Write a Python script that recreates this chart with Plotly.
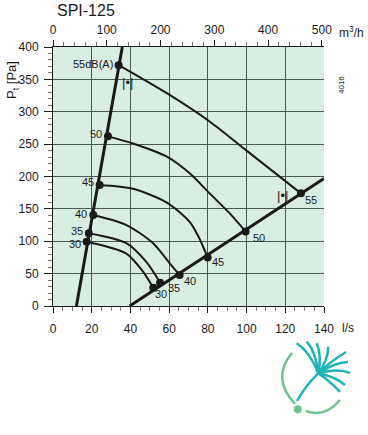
import plotly.graph_objects as go

# ---------------- data ----------------
title_text = "SPI-125"
x_tick_vals = [0, 20, 40, 60, 80, 100, 120, 140]
y_tick_vals = [0, 50, 100, 150, 200, 250, 300, 350, 400]
top_tick_vals = [0, 100, 200, 300, 400, 500]
ls_to_m3h = 3.6

left_system_q = [12.1, 35.8]
left_system_p = [0, 400]
right_system_q = [39.6, 140]
right_system_p = [0, 197]

levels = ["55", "50", "45", "40", "35", "30"]
left_point_q = [33.9, 28.4, 24.1, 20.8, 18.5, 17.4]
left_point_p = [372, 262, 187, 140.5, 112.5, 99.3]
right_point_q = [128.1, 99.5, 79.9, 65.4, 55.3, 51.8]
right_point_p = [174, 115, 75, 48, 36, 28]

mid_q_55 = [58.6, 80.9, 100]
mid_p_55 = [329, 285, 240]
mid_q_50 = [41.3, 58.6, 70.6, 80.9, 91.3]
mid_p_50 = [251, 231, 205, 174, 143]
mid_q_45 = [41.3, 58.6, 70.6, 75.5]
mid_p_45 = [181, 160, 130, 105]
mid_q_40 = [37.9, 51.7, 60.3]
mid_p_40 = [125, 97, 66]
mid_q_35 = [37.9, 48.2]
mid_p_35 = [97, 68]
mid_q_30 = [37.9, 46.5]
mid_p_30 = [81, 53]

mid_q = [mid_q_55, mid_q_50, mid_q_45, mid_q_40, mid_q_35, mid_q_30]
mid_p = [mid_p_55, mid_p_50, mid_p_45, mid_p_40, mid_p_35, mid_p_30]

# ---------------- style ----------------
FONT = "Liberation Sans, Arial, sans-serif"
DARK = "#1a1a1a"
GRID = "#4a5a51"
BG = "#d9eee3"
TEAL = "#1db3b8"
GREEN = "#6fc18d"

W, H = 368, 435
PLOT_X0, PLOT_X1 = 53, 324      # px of plot left / right
PLOT_Y0, PLOT_Y1 = 47, 306      # px of plot top / bottom
PW, PH = PLOT_X1 - PLOT_X0, PLOT_Y1 - PLOT_Y0
L, T = PLOT_X0, PLOT_Y0
R = W - L - PW
B = H - T - PH


def px(xp, yp):
    return ((xp - PLOT_X0) / PW, (PLOT_Y1 - yp) / PH)


def pt(xp, yp):
    a, b = px(xp, yp)
    return f"{a:.4f},{b:.4f}"


fig = go.Figure()

# iso-sound curves
for i, lv in enumerate(levels):
    qs = [left_point_q[i]] + mid_q[i] + [right_point_q[i]]
    ps = [left_point_p[i]] + mid_p[i] + [right_point_p[i]]
    fig.add_trace(go.Scatter(x=qs, y=ps, mode="lines",
                             line=dict(color=DARK, width=2, shape="spline", smoothing=0.8),
                             hoverinfo="skip", showlegend=False))

# system lines
fig.add_trace(go.Scatter(x=left_system_q, y=left_system_p, mode="lines",
                         line=dict(color=DARK, width=3), showlegend=False, hoverinfo="skip"))
fig.add_trace(go.Scatter(x=right_system_q, y=right_system_p, mode="lines",
                         line=dict(color=DARK, width=3), showlegend=False, hoverinfo="skip"))

# points
fig.add_trace(go.Scatter(x=left_point_q + right_point_q, y=left_point_p + right_point_p,
                         mode="markers", marker=dict(color=DARK, size=8),
                         showlegend=False, hoverinfo="skip"))

# invisible trace on top axis (m3/h)
fig.add_trace(go.Scatter(x=[q * ls_to_m3h for q in right_system_q], y=right_system_p,
                         xaxis="x2", mode="lines", line=dict(width=0),
                         opacity=0, showlegend=False, hoverinfo="skip"))

annotations = []
# left labels
left_yshift = [1, 2, 3, 1, 2, -2]
for i, lv in enumerate(levels):
    txt = lv + "dB(A)" if i == 0 else lv
    annotations.append(dict(x=left_point_q[i], y=left_point_p[i], xref="x", yref="y",
                            text=txt, showarrow=False, xanchor="right", yanchor="middle",
                            xshift=-4, yshift=left_yshift[i],
                            font=dict(family=FONT, size=11, color=DARK)))
# right labels
right_xshift = [2, 5, 2, 2, 6, 0]
right_yshift = [-7, -6, -5, -6, -5, -6]
for i, lv in enumerate(levels):
    annotations.append(dict(x=right_point_q[i], y=right_point_p[i], xref="x", yref="y",
                            text=lv, showarrow=False, xanchor="left", yanchor="middle",
                            xshift=right_xshift[i], yshift=right_yshift[i],
                            font=dict(family=FONT, size=11, color=DARK)))

# bracket symbols
for (bx, by) in [(38.3, 345), (118.6, 171.4)]:
    annotations.append(dict(x=bx, y=by, xref="x", yref="y", text="|•|", showarrow=False,
                            font=dict(family=FONT, size=13, color=DARK)))

tx, ty = px(55, 10)
annotations.append(dict(x=tx, y=ty, xref="paper", yref="paper", text=title_text,
                        showarrow=False, xanchor="left", yanchor="middle",
                        font=dict(family=FONT, size=16, color=DARK)))
lx, ly = px(340, 328)
annotations.append(dict(x=lx, y=ly, xref="paper", yref="paper", text="l/s",
                        showarrow=False, xanchor="left", yanchor="middle",
                        font=dict(family=FONT, size=12, color=DARK)))
mx, my = px(337, 32)
annotations.append(dict(x=mx, y=my, xref="paper", yref="paper", text="m<sup>3</sup>/h",
                        showarrow=False, xanchor="left", yanchor="middle",
                        font=dict(family=FONT, size=12, color=DARK)))
yx, yy = px(12, 80)
annotations.append(dict(x=yx, y=yy, xref="paper", yref="paper", text="P<sub>t</sub> [Pa]",
                        showarrow=False, textangle=-90, xanchor="center", yanchor="middle",
                        font=dict(family=FONT, size=13, color=DARK)))
nx, ny = px(341, 85)
annotations.append(dict(x=nx, y=ny, xref="paper", yref="paper", text="4016",
                        showarrow=False, textangle=-90, xanchor="center", yanchor="middle",
                        font=dict(family=FONT, size=8, color=DARK)))

# logo shapes
shapes = []
shapes.append(dict(type="path", xref="paper", yref="paper",
                   path=f"M {pt(292,353)} Q {pt(271,378)} {pt(295,404)}",
                   line=dict(color=GREEN, width=2.5)))
shapes.append(dict(type="path", xref="paper", yref="paper",
                   path=f"M {pt(306,411)} Q {pt(325,418)} {pt(340,400)}",
                   line=dict(color=GREEN, width=2.5)))
c0 = px(293.7, 413.3)
c1 = px(301.7, 405.3)
shapes.append(dict(type="circle", xref="paper", yref="paper",
                   x0=c0[0], y0=c0[1], x1=c1[0], y1=c1[1],
                   fillcolor=GREEN, line=dict(color=GREEN, width=0)))
shapes.append(dict(type="path", xref="paper", yref="paper",
                   path=f"M {pt(297,401)} Q {pt(313,372)} {pt(346,352)}",
                   line=dict(color=TEAL, width=2.5)))
C = (318.3, 373.3)
strands = [((296.7, 343.3), (310, 352)), ((306.7, 341.7), (316, 352)),
           ((316.7, 343.3), (322, 356)), ((328.3, 346.7), (328, 360)),
           ((348, 362), (336, 362)), ((350, 373), (338, 368)),
           ((345, 385), (336, 377)), ((340, 392), (331, 382))]
for end, ctrl in strands:
    shapes.append(dict(type="path", xref="paper", yref="paper",
                       path=f"M {pt(*C)} Q {pt(*ctrl)} {pt(*end)}",
                       line=dict(color=TEAL, width=2.5)))

fig.update_layout(
    width=W, height=H,
    margin=dict(l=L, r=R, t=T, b=B, pad=0),
    paper_bgcolor="white", plot_bgcolor=BG,
    showlegend=False,
    font=dict(family=FONT, size=12, color=DARK),
    xaxis=dict(range=[0, 140], tickvals=x_tick_vals, showgrid=True, gridcolor=GRID, gridwidth=1,
               zeroline=False, showline=True, linecolor=DARK, linewidth=1,
               ticks="outside", ticklen=6, tickcolor=DARK, tickwidth=1,
               minor=dict(dtick=5, ticks="outside", ticklen=4, tickcolor="#777", showgrid=False),
               tickfont=dict(family=FONT, size=12, color=DARK), ticklabelstandoff=6,
               fixedrange=True),
    xaxis2=dict(range=[0, 140 * ls_to_m3h], overlaying="x", side="top", tickvals=top_tick_vals,
                showgrid=False, zeroline=False, showline=True, linecolor=DARK, linewidth=1,
                ticks="outside", ticklen=6, tickcolor=DARK,
                minor=dict(dtick=20, ticks="outside", ticklen=4, tickcolor="#777", showgrid=False),
                tickfont=dict(family=FONT, size=12, color=DARK), ticklabelstandoff=1,
                fixedrange=True),
    yaxis=dict(range=[0, 400], tickvals=y_tick_vals, showgrid=True, gridcolor=GRID, gridwidth=1,
               zeroline=False, showline=True, linecolor=DARK, linewidth=1,
               ticks="outside", ticklen=8, tickcolor=DARK,
               minor=dict(dtick=10, ticks="outside", ticklen=4, tickcolor="#777", showgrid=False),
               tickfont=dict(family=FONT, size=12, color=DARK), ticklabelstandoff=3,
               fixedrange=True),
    annotations=annotations,
    shapes=shapes,
)

fig.write_html("out.html", config={"displayModeBar": False},
               post_script="document.body.style.margin='0px';")
